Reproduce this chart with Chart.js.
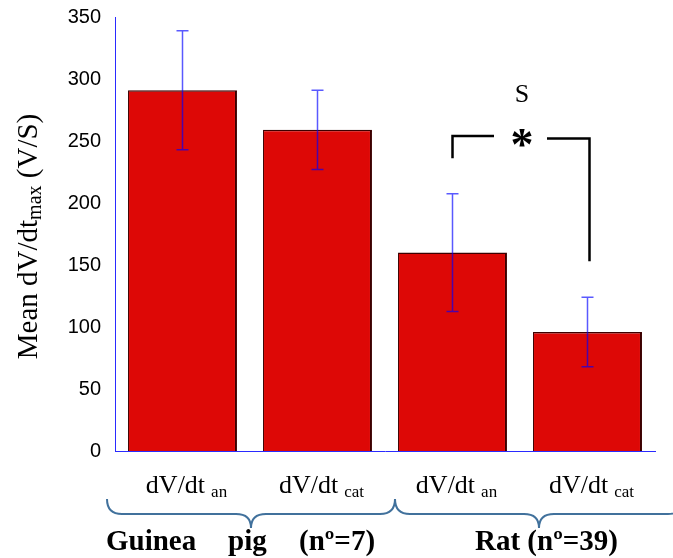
<!DOCTYPE html>
<html><head><meta charset="utf-8">
<script src="https://cdn.jsdelivr.net/npm/chart.js@4"></script>
<style>html,body{margin:0;padding:0;background:#fff;} #wrap{width:673px;height:558px;}</style>
</head><body><div id="wrap"><canvas id="c" width="673" height="558"></canvas></div>
<script>
// ---- data ----
const categories = ['dV/dt an', 'dV/dt cat', 'dV/dt an', 'dV/dt cat'];
const labelMain = ['dV/dt', 'dV/dt', 'dV/dt', 'dV/dt'];
const labelSub = ['an', 'cat', 'an', 'cat'];
const means = [291, 259, 160, 96];
const errors = [48, 32, 47.5, 28];
const yTickValues = [0, 50, 100, 150, 200, 250, 300, 350];
const groupGuinea = ['Guinea', 'pig', '(n\u00BA=7)'];
const groupRat = ['Rat (n\u00BA=39)'];
const yTitle = ['Mean dV/dt', 'max', ' (V/S)'];
const sigLetter = 'S';
const sigMark = '*';
// bracket levels (values on the y axis)
const bracketLeft = [236, 254];
const bracketRight = [153, 252];

const SERIF = '"Liberation Serif", "Times New Roman", serif';

const annot = {
  id: 'annot',
  afterDatasetsDraw(chart) {
    const ctx = chart.ctx;
    const xs = chart.scales.x, ys = chart.scales.y;
    const ca = chart.chartArea;
    ctx.save();
    // error bars
    ctx.strokeStyle = 'rgba(0,0,255,0.65)';
    ctx.lineWidth = 1.5;
    means.forEach((m, i) => {
      const x = xs.getPixelForValue(i);
      const yt = ys.getPixelForValue(m + errors[i]);
      const yb = ys.getPixelForValue(m - errors[i]);
      ctx.beginPath();
      ctx.moveTo(x, yt); ctx.lineTo(x, yb);
      ctx.moveTo(x - 6, yt); ctx.lineTo(x + 6, yt);
      ctx.moveTo(x - 6, yb); ctx.lineTo(x + 6, yb);
      ctx.stroke();
    });
    // category labels with subscripts
    ctx.fillStyle = '#000';
    ctx.textBaseline = 'alphabetic';
    ctx.textAlign = 'left';
    labelMain.forEach((t, i) => {
      const x = xs.getPixelForValue(i) + 4;
      ctx.font = '26px ' + SERIF;
      const w1 = ctx.measureText(t).width;
      ctx.font = '17px ' + SERIF;
      const w2 = ctx.measureText(labelSub[i]).width;
      const gap = 6;
      const start = x - (w1 + gap + w2) / 2;
      ctx.font = '26px ' + SERIF;
      ctx.fillText(t, start, 493);
      ctx.font = '17px ' + SERIF;
      ctx.fillText(labelSub[i], start + w1 + gap, 497);
    });
    // braces
    const brace = (x0, x1, xc) => {
      const t = 499, m = 514, p = 528, r = 15;
      ctx.beginPath();
      ctx.moveTo(x0, t);
      ctx.quadraticCurveTo(x0, m, x0 + r, m);
      ctx.lineTo(xc - r, m);
      ctx.quadraticCurveTo(xc, m, xc, p);
      ctx.quadraticCurveTo(xc, m, xc + r, m);
      ctx.lineTo(x1 - r, m);
      ctx.quadraticCurveTo(x1, m, x1, t);
      ctx.stroke();
    };
    ctx.strokeStyle = '#41719c';
    ctx.lineWidth = 2;
    const mid = (xs.getPixelForValue(1) + xs.getPixelForValue(2)) / 2 + 10;
    const b0 = ca.left - 8;
    brace(b0, mid, (b0 + mid) / 2);
    const b1 = mid + (mid - b0);
    brace(mid, b1, (mid + b1) / 2);
    // group labels
    ctx.fillStyle = '#000';
    ctx.font = 'bold 29px ' + SERIF;
    ctx.fillText(groupGuinea[0], 106, 550);
    ctx.fillText(groupGuinea[1], 228, 550);
    ctx.fillText(groupGuinea[2], 299, 550);
    ctx.fillText(groupRat[0], 475, 550);
    // significance
    const xl = xs.getPixelForValue(2), xr = xs.getPixelForValue(3) + 2;
    const xm = (xl + xr) / 2 + 1;
    ctx.strokeStyle = '#000';
    ctx.lineWidth = 2.5;
    ctx.beginPath();
    ctx.moveTo(xl, ys.getPixelForValue(bracketLeft[0]));
    ctx.lineTo(xl, ys.getPixelForValue(bracketLeft[1]));
    ctx.lineTo(xm - 28, ys.getPixelForValue(bracketLeft[1]));
    ctx.moveTo(xm + 25, ys.getPixelForValue(bracketRight[1]));
    ctx.lineTo(xr, ys.getPixelForValue(bracketRight[1]));
    ctx.lineTo(xr, ys.getPixelForValue(bracketRight[0]));
    ctx.stroke();
    ctx.textAlign = 'center';
    ctx.font = '26px ' + SERIF;
    ctx.fillText(sigLetter, xm, 102);
    ctx.font = 'bold 46px ' + SERIF;
    const mm = ctx.measureText(sigMark);
    const yMid = ys.getPixelForValue((bracketLeft[1] + bracketRight[1]) / 2) + 1;
    ctx.fillText(sigMark, xm, yMid + (mm.actualBoundingBoxAscent - mm.actualBoundingBoxDescent) / 2);
    // y title
    ctx.translate(37, 236.5);
    ctx.rotate(-Math.PI / 2);
    ctx.textAlign = 'left';
    ctx.font = '29px ' + SERIF;
    const t1 = ctx.measureText(yTitle[0]).width;
    const t3 = ctx.measureText(yTitle[2]).width;
    ctx.font = '20px ' + SERIF;
    const t2 = ctx.measureText(yTitle[1]).width;
    let sx = -(t1 + t2 + t3) / 2;
    ctx.font = '29px ' + SERIF;
    ctx.fillText(yTitle[0], sx, 0);
    ctx.font = '20px ' + SERIF;
    ctx.fillText(yTitle[1], sx + t1, 4);
    ctx.font = '29px ' + SERIF;
    ctx.fillText(yTitle[2], sx + t1 + t2, 0);
    ctx.restore();
  }
};

new Chart(document.getElementById('c'), {
  type: 'bar',
  data: {
    labels: categories,
    datasets: [{
      data: means,
      backgroundColor: '#dd0806',
      borderColor: '#3c0000',
      borderWidth: { top: 1.5, left: 1, right: 2, bottom: 0 },
      borderSkipped: false,
      barPercentage: 0.807,
      categoryPercentage: 1
    }]
  },
  options: {
    responsive: false,
    animation: false,
    devicePixelRatio: 1,
    layout: { padding: { top: 17, right: 18, left: 0, bottom: 0 } },
    plugins: { legend: { display: false }, tooltip: { enabled: false } },
    scales: {
      x: {
        grid: { display: false, drawTicks: false },
        border: { display: true, color: '#2a2aff', width: 1 },
        ticks: { display: false },
        afterFit(s) { s.height = 107; s.paddingLeft = 0; s.paddingRight = 0; }
      },
      y: {
        min: 0, max: 350,
        afterBuildTicks(s) { s.ticks = yTickValues.map(v => ({ value: v })); },
        ticks: { padding: 14, color: '#000', font: { family: '"Liberation Sans", Arial, sans-serif', size: 20 } },
        grid: { display: false, drawTicks: false },
        border: { display: true, color: '#2a2aff', width: 1 },
        afterFit(s) { s.width = 115; s.paddingTop = 0; s.paddingBottom = 0; }
      }
    }
  },
  plugins: [annot]
});
</script>
</body></html>
